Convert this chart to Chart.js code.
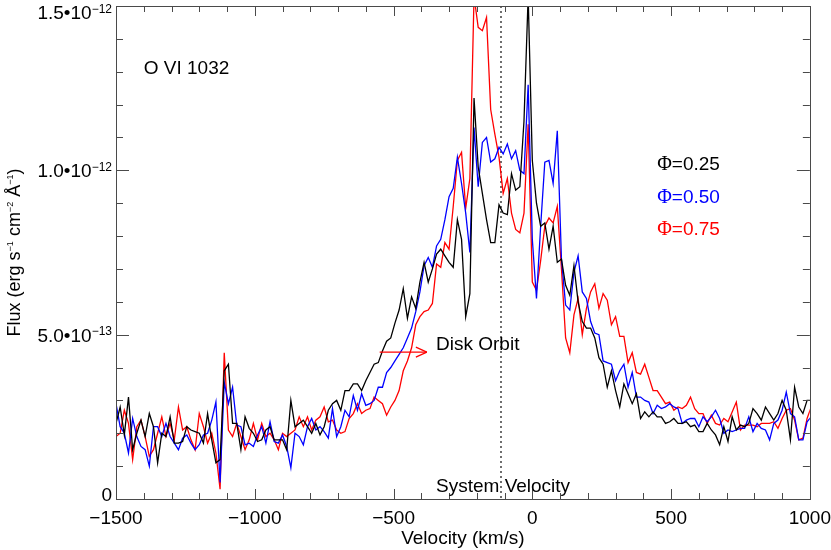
<!DOCTYPE html>
<html><head><meta charset="utf-8">
<script src="https://cdn.jsdelivr.net/npm/chart.js@4.4.1/dist/chart.umd.min.js"></script>
<style>html,body{margin:0;padding:0;background:#fff}#wrap{width:831px;height:550px}</style>
</head><body><div id="wrap"><canvas id="c" width="831" height="550"></canvas></div>
<script>
// Velocity grid (km/s)
const velocity=[-1500,-1485,-1470,-1455,-1440,-1425,-1410,-1395,-1380,-1365,-1350,-1335,-1320,-1305,-1290,-1275,-1260,-1245,-1230,-1215,-1200,-1185,-1170,-1155,-1140,-1125,-1110,-1095,-1080,-1065,-1050,-1035,-1020,-1005,-990,-975,-960,-945,-930,-915,-900,-885,-870,-855,-840,-825,-810,-795,-780,-765,-750,-735,-720,-705,-690,-675,-660,-645,-630,-615,-600,-585,-570,-555,-540,-525,-510,-495,-480,-465,-450,-435,-420,-405,-390,-375,-360,-345,-330,-315,-300,-285,-270,-255,-240,-225,-210,-195,-180,-165,-150,-135,-120,-105,-90,-75,-60,-45,-30,-15,0,15,30,45,60,75,90,105,120,135,150,165,180,195,210,225,240,255,270,285,300,315,330,345,360,375,390,405,420,435,450,465,480,495,510,525,540,555,570,585,600,615,630,645,660,675,690,705,720,735,750,765,780,795,810,825,840,855,870,885,900,915,930,945,960,975,990,1005];
// Flux in units of 1e-13 erg s^-1 cm^-2 A^-1
const fluxPhase025=[2.3,2.8,1.95,3.1,1.5,2.0,2.4,1.9,2.6,2.2,1.1,2.0,1.9,2.5,1.7,1.7,1.75,2.2,2.1,2.05,2.0,1.7,2.6,1.8,1.1,1.2,3.9,4.1,2.3,2.3,1.5,2.5,2.15,2.0,1.75,1.8,2.1,2.2,1.8,1.8,1.8,1.5,3.0,2.2,2.3,2.4,2.2,2.0,2.3,1.95,2.2,2.7,2.9,3.0,2.7,3.3,3.3,3.5,3.5,3.3,3.6,3.85,4.1,4.15,4.5,4.8,4.9,5.35,5.75,6.4,5.5,6.15,5.8,6.6,7.2,6.6,7.0,7.45,7.6,7.4,7.2,7.05,8.5,7.9,5.55,6.25,12.2,10.1,9.3,8.5,7.8,7.8,8.95,8.7,8.65,9.9,9.4,9.5,11.5,15.3,10.3,9.0,8.3,8.4,7.6,8.3,7.2,7.3,6.5,6.2,7.1,6.0,5.4,5.2,5.2,4.9,4.3,4.1,3.4,3.9,3.3,2.8,3.5,3.2,2.9,3.2,2.45,2.65,2.5,2.65,2.5,2.5,2.3,2.35,2.45,2.3,2.3,2.35,2.2,2.25,2.05,2.05,2.3,2.1,1.95,1.65,2.2,1.75,2.5,2.1,2.25,2.2,2.3,2.75,2.6,2.4,2.8,2.6,2.4,2.6,3.0,2.7,1.8,3.4,2.8,2.6,3.0,3.0];
const fluxPhase050=[2.9,2.2,2.0,1.4,2.45,1.9,1.6,1.5,1.0,2.2,2.2,1.9,2.3,1.9,1.7,1.5,1.85,1.95,1.7,1.5,1.65,1.95,2.0,2.4,2.95,0.5,3.55,2.9,3.4,2.25,2.2,1.65,1.7,1.6,1.95,2.2,1.7,2.35,1.75,1.7,1.95,1.6,0.95,2.0,1.9,1.65,2.2,2.45,2.1,2.2,2.05,1.85,2.75,1.9,2.2,2.7,2.5,3.15,2.7,3.2,2.85,2.9,3.0,3.4,3.4,3.85,4.0,4.2,4.4,4.6,4.9,5.2,5.7,6.3,7.1,7.35,7.05,7.7,7.9,8.5,9.2,9.45,10.4,9.6,8.7,7.5,11.3,9.5,10.85,11.0,10.25,10.35,10.7,10.5,10.8,10.35,10.6,10.0,9.9,12.6,7.9,6.1,8.3,10.25,10.3,9.6,11.2,7.3,5.9,5.75,6.9,7.4,6.3,6.1,5.4,5.05,5.0,4.2,4.15,4.1,3.6,3.9,4.1,3.4,3.85,3.1,3.1,3.0,2.95,2.6,2.85,2.75,2.8,2.9,2.8,2.75,2.3,2.4,2.45,2.45,2.2,2.5,2.35,2.5,2.7,2.45,2.0,2.1,2.05,2.1,2.15,2.15,2.5,2.05,2.3,2.15,2.1,1.8,2.3,2.4,2.7,3.25,2.6,2.5,1.8,1.8,2.35,2.5];
const fluxPhase075=[1.9,2.0,2.7,2.3,1.2,2.2,2.4,1.9,1.3,1.5,2.0,2.5,1.9,2.3,1.8,2.8,2.1,2.2,1.8,1.5,2.6,2.2,1.7,2.0,1.4,0.3,4.45,2.1,1.9,2.3,1.9,1.5,1.8,2.3,1.8,2.3,1.9,2.0,1.8,1.5,2.0,1.9,2.0,2.1,2.5,2.2,2.5,2.1,2.4,2.5,2.8,2.35,2.4,2.1,2.0,2.05,2.45,2.6,2.9,2.6,2.7,2.75,3.1,3.0,2.9,2.55,2.8,3.0,3.3,3.9,4.2,4.6,5.3,5.55,5.7,5.75,5.95,7.15,7.05,7.8,7.6,8.9,10.3,10.55,8.85,9.75,15.3,14.35,14.25,14.65,11.85,11.1,10.4,9.3,9.75,8.7,8.2,8.1,8.7,11.4,6.6,6.35,7.25,8.3,8.55,8.4,8.9,7.0,4.9,4.45,5.6,6.1,5.0,5.8,6.3,6.55,5.8,6.25,6.05,5.3,5.55,4.95,4.95,4.15,4.45,3.85,3.8,4.1,3.7,3.3,3.3,3.1,2.9,2.95,2.7,2.8,2.75,2.85,3.1,2.75,2.6,2.6,2.3,2.55,2.3,2.25,2.45,2.35,2.65,2.95,2.1,2.25,2.25,2.25,2.2,2.3,2.3,2.3,2.35,2.15,2.45,2.7,2.75,2.4,1.8,1.85,2.45,2.8];

const seriesColors=['#000000','#0000ff','#ff0000'];
const phaseLabels=['=0.25','=0.50','=0.75'];
const xTickLabels={'-1500':'\u22121500','-1000':'\u22121000','-500':'\u2212500','0':'0','500':'500','1000':'1000'};
const yTickValues=[0,5,10,15];
const yTickMantissas=['0','5.0\u202210','1.0\u202210','1.5\u202210'];
const yTickExponents=['','\u221213','\u221212','\u221212'];
const systemVelocity=-113;

const FONT='"Liberation Sans", Arial, Helvetica, sans-serif';
const SERIF='"Liberation Serif", "DejaVu Serif", serif';

function seg(ctx,x1,y1,x2,y2){ctx.beginPath();ctx.moveTo(x1,y1);ctx.lineTo(x2,y2);ctx.stroke();}

const decor={
  id:'decor',
  beforeDatasetsDraw(chart){
    const ctx=chart.ctx, xs=chart.scales.x, a=chart.chartArea;
    ctx.save();
    ctx.strokeStyle='#6e6e6e'; ctx.lineWidth=2; ctx.setLineDash([2,3]);
    const px=Math.round(xs.getPixelForValue(systemVelocity));
    seg(ctx,px,a.top,px,a.bottom);
    ctx.restore();
  },
  afterDatasetsDraw(chart){
    const ctx=chart.ctx, xs=chart.scales.x, ys=chart.scales.y, a=chart.chartArea;
    ctx.save();
    // frame
    ctx.strokeStyle='#4a4a4a'; ctx.lineWidth=1;
    ctx.strokeRect(Math.round(a.left)+0.5,Math.round(a.top)+0.5,Math.round(a.right-a.left),Math.round(a.bottom-a.top));
    // x ticks (inward, top and bottom)
    xs.ticks.forEach(t=>{
      const px=Math.round(xs.getPixelForValue(t.value))+0.5;
      const major=Math.abs(Math.round(t.value))%500===0;
      const L=major?10:6;
      seg(ctx,px,a.bottom,px,a.bottom-L);
      seg(ctx,px,a.top,px,a.top+L);
    });
    ys.ticks.forEach(t=>{
      const py=Math.round(ys.getPixelForValue(t.value))+0.5;
      const major=Math.abs(Math.round(t.value))%5===0;
      const L=major?13:7;
      seg(ctx,a.left,py,a.left+L,py);
      seg(ctx,a.right,py,a.right-L,py);
    });
    // y tick labels with superscript exponents
    ctx.fillStyle='#000'; ctx.textBaseline='alphabetic'; ctx.textAlign='left';
    yTickValues.forEach((v,k)=>{
      let py=ys.getPixelForValue(v);
      py=Math.min(Math.max(py,12),494);
      ctx.font='19px '+FONT; const mw=ctx.measureText(yTickMantissas[k]).width;
      ctx.font='12px '+FONT; const ew=yTickExponents[k]?ctx.measureText(yTickExponents[k]).width:0;
      const right=a.left-4;
      ctx.font='19px '+FONT; ctx.fillText(yTickMantissas[k],right-ew-mw,py+7);
      if(ew){ctx.font='12px '+FONT; ctx.fillText(yTickExponents[k],right-ew,py+0.5);}
    });
    // y axis title with superscripts
    const parts=[['Flux (erg s',0],['\u22121',1],[' cm',0],['\u22122',1],[' \u00c5',0],['\u22121',1],[')',0]];
    let total=0;
    parts.forEach(p=>{ctx.font=(p[1]?'9px ':'18px ')+FONT; p.w=ctx.measureText(p[0]).width; total+=p.w;});
    ctx.save();
    ctx.translate(20,(a.top+a.bottom)/2);
    ctx.rotate(-Math.PI/2);
    let x=-total/2;
    parts.forEach(p=>{ctx.font=(p[1]?'9px ':'18px ')+FONT; ctx.fillText(p[0],x,p[1]?-7:0); x+=p.w;});
    ctx.restore();
    // annotations
    ctx.font='19px '+FONT; ctx.textBaseline='middle';
    ctx.fillStyle='#000';
    ctx.fillText('O VI 1032',xs.getPixelForValue(-1400),ys.getPixelForValue(13.1));
    ctx.fillText('Disk Orbit',xs.getPixelForValue(-347),ys.getPixelForValue(4.68));
    ctx.fillText('System Velocity',xs.getPixelForValue(-347),ys.getPixelForValue(0.37));
    const phaseY=[10.16,9.16,8.18];
    phaseLabels.forEach((s,k)=>{
      ctx.fillStyle=seriesColors[k];
      const x0=xs.getPixelForValue(450), y0=ys.getPixelForValue(phaseY[k]);
      ctx.font='20px '+SERIF; ctx.fillText('\u03a6',x0,y0);
      const w=ctx.measureText('\u03a6').width;
      ctx.font='19px '+FONT; ctx.fillText(s,x0+w,y0);
    });
    // Disk orbit arrow
    ctx.strokeStyle='#ff0000'; ctx.lineWidth=1.2;
    const ax1=xs.getPixelForValue(-550), ax2=xs.getPixelForValue(-380), ay=ys.getPixelForValue(4.47);
    seg(ctx,ax1,ay,ax2,ay);
    seg(ctx,ax2,ay,ax2-11,ay-5);
    seg(ctx,ax2,ay,ax2-11,ay+5);
    ctx.restore();
  }
};

function mk(vals,color){
  return {data:velocity.map((v,i)=>({x:v,y:vals[i]})),showLine:true,borderColor:color,borderWidth:1.3,pointRadius:0,tension:0,fill:false};
}

new Chart(document.getElementById('c').getContext('2d'),{
  type:'scatter',
  data:{datasets:[mk(fluxPhase025,seriesColors[0]),mk(fluxPhase050,seriesColors[1]),mk(fluxPhase075,seriesColors[2])]},
  options:{
    responsive:false,animation:false,devicePixelRatio:1,
    layout:{padding:{top:6,right:21,left:0,bottom:0}},
    plugins:{legend:{display:false},tooltip:{enabled:false}},
    scales:{
      x:{type:'linear',min:-1500,max:1000,
        afterFit(s){s.height=51;},
        grid:{display:false},border:{display:false},
        ticks:{stepSize:100,autoSkip:false,maxRotation:0,padding:0,color:'#000',font:{family:FONT,size:19},
          callback:(v)=>xTickLabels[String(Math.round(v))]??''},
        title:{display:true,text:'Velocity (km/s)',color:'#000',font:{family:FONT,size:19},padding:{top:0,bottom:0}}
      },
      y:{type:'linear',min:0,max:15,
        afterFit(s){s.width=116;},
        grid:{display:false},border:{display:false},
        ticks:{display:false,stepSize:1}
      }
    }
  },
  plugins:[decor]
});
</script></body></html>
